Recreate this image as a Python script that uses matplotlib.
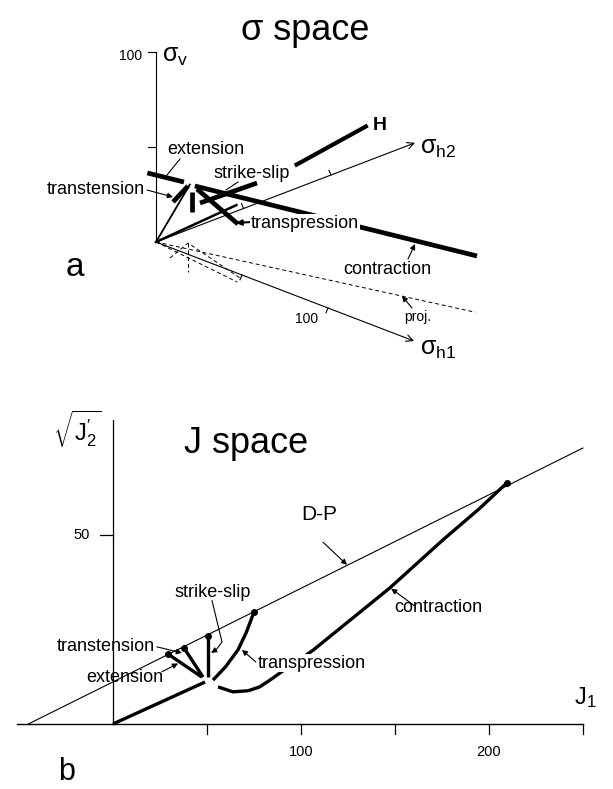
import numpy as np
import matplotlib
matplotlib.use("Agg")
import matplotlib.pyplot as plt

plt.rcParams['font.family'] = ['Liberation Sans', 'DejaVu Sans']
plt.rcParams['mathtext.fontset'] = 'custom'
plt.rcParams['mathtext.rm'] = 'Liberation Sans'
plt.rcParams['mathtext.it'] = 'Liberation Sans:italic'
plt.rcParams['mathtext.sf'] = 'Liberation Sans'

# ---- (a) sigma space: stress states as (sigma_h1, sigma_h2, sigma_v) ----
axis_len_h1 = 150
axis_len_h2 = 148
axis_len_v = 100

contraction_h1 = [10.6, 145.6]
contraction_h2 = [11.8, 40.3]
contraction_v = [29, 29]

extension_h1 = [7.3, -3.0]
extension_h2 = [8.8, -2.0]
extension_v = [31, 36]

transtension_h1 = [7.2, 3.4]
transtension_h2 = [11.2, 6.4]
transtension_v = [28, 20]

drop_h1 = [10.0, 10.0]
drop_h2 = [10.7, 10.7]
drop_v = [26, 15.5]

strikeslip_h1 = [14.9, 16.3]
strikeslip_h2 = [10.5, 41.7]
strikeslip_v = [22, 22]

transpression_h1 = [12.0, 39.0]
transpression_h2 = [11.6, 8.5]
transpression_v = [28, 20]

hydro_t = [40, 61]          # H axis, sigma_h1 = sigma_h2 = sigma_v = t

ray1_h1, ray1_h2, ray1_v = [0, 9.5], [0, 10], [0, 30]
ray2_h1, ray2_h2, ray2_v = [0, 4], [0, 42], [0, 6]

proj_h1, proj_h2, proj_v = [0, 146], [0, 39], [0, 0]
dash1_h1, dash1_h2, dash1_v = [0, 54], [0, -6.6], [0, 0]
dash2_h1, dash2_h2, dash2_v = [16.2, 10.1, 51.7], [-7.9, 8.4, -2.8], [0, 0, 0]
dash3_h1, dash3_h2, dash3_v = [10.1, 10.1], [8.4, 8.4], [0, -15]

# ---- (b) J space ----
dp_j1 = [-45, 250]
dp_y = [0, 73]
base_j1 = [0, 49]
base_y = [0, 11.1]
ext_j1 = [29.3, 47.3]
ext_y = [18.5, 12.4]
ttn_j1 = [37.8, 47.9]
ttn_y = [20.1, 12.4]
ss_j1 = [50.5, 50.5]
ss_y = [12.4, 23.3]
tpr_j1 = [53.2, 60, 66.5, 71, 75]
tpr_y = [11.6, 15.2, 19.6, 24.3, 29.6]
con_j1 = [55.9, 63.8, 72, 78, 83.5, 92, 100, 106.4, 125, 147.3, 176, 195, 209.6]
con_y = [9.8, 8.5, 8.8, 9.8, 11.6, 14.6, 17.3, 19.5, 27, 36, 48.9, 57, 63.8]
dot_j1 = [29.3, 37.8, 50.5, 75, 209.6]
dot_y = [18.5, 20.1, 23.3, 29.6, 63.8]
j1_ticks = [50, 100, 150, 200, 250]
j1_ticklabels = ['', '100', '', '200', '']
y_ticks = [50]


def proj(h1, h2, v):
    # oblique projection of the stress space onto the page
    h1, h2, v = np.asarray(h1, float), np.asarray(h2, float), np.asarray(v, float)
    return 1.72 * h1 + 1.75 * h2, -0.66 * h1 + 0.67 * h2 + 1.9 * v


def arrow(ax, tail, tip, lw=0.8):
    ax.annotate('', xy=tip, xytext=tail,
                arrowprops=dict(arrowstyle='-|>', color='k', lw=lw,
                                mutation_scale=8, shrinkA=0, shrinkB=0))


fig = plt.figure(figsize=(6.13, 7.89), dpi=100)

# ================= top panel =================
ax1 = fig.add_axes([0, 389 / 789, 1, 400 / 789])
ax1.set_xlim(-156, 457)
ax1.set_ylim(-158, 242)
ax1.axis('off')

# axes
x, y = proj([0, 0], [0, 0], [0, axis_len_v])
ax1.plot(x, y, color='k', lw=0.8)
for t in [50, 100]:
    x, y = proj(0, 0, t)
    ax1.plot([x - 8, x], [y, y], color='k', lw=0.8)
x, y = proj([0, axis_len_h1], [0, 0], [0, 0])
ax1.annotate('', xy=(x[1], y[1]), xytext=(x[0], y[0]),
             arrowprops=dict(arrowstyle='->', color='k', lw=0.8, mutation_scale=12,
                             shrinkA=0, shrinkB=0))
x, y = proj([0, 0], [0, axis_len_h2], [0, 0])
ax1.annotate('', xy=(x[1], y[1]), xytext=(x[0], y[0]),
             arrowprops=dict(arrowstyle='->', color='k', lw=0.8, mutation_scale=12,
                             shrinkA=0, shrinkB=0))
for t in [50, 100]:
    x, y = proj([t, t], [0, 0], [0, -2.5])
    ax1.plot(x - [0, 2], y, color='k', lw=0.8)
    x, y = proj([0, 0], [t, t], [0, 2.5])
    ax1.plot(x - [0, 2], y, color='k', lw=0.8)

# dashed construction lines
for hh1, hh2, vv in [(proj_h1, proj_h2, proj_v), (dash1_h1, dash1_h2, dash1_v),
                     (dash2_h1, dash2_h2, dash2_v), (dash3_h1, dash3_h2, dash3_v)]:
    x, y = proj(hh1, hh2, vv)
    ax1.plot(x, y, color='k', lw=0.7, dashes=(4, 3))

# rays from origin
x, y = proj(ray1_h1, ray1_h2, ray1_v)
ax1.plot(x, y, color='k', lw=1.3)
x, y = proj(ray2_h1, ray2_h2, ray2_v)
ax1.plot(x, y, color='k', lw=1.8)

# stress paths
for hh1, hh2, vv in [(contraction_h1, contraction_h2, contraction_v),
                     (extension_h1, extension_h2, extension_v),
                     (transtension_h1, transtension_h2, transtension_v),
                     (drop_h1, drop_h2, drop_v),
                     (strikeslip_h1, strikeslip_h2, strikeslip_v),
                     (transpression_h1, transpression_h2, transpression_v)]:
    x, y = proj(hh1, hh2, vv)
    ax1.plot(x, y, color='k', lw=3.4, solid_capstyle='butt')
x, y = proj(hydro_t, hydro_t, hydro_t)
ax1.plot(x, y, color='k', lw=3.0, solid_capstyle='butt')

# labels
ax1.text(149, 212, 'σ space', fontsize=26, ha='center', va='center')
ax1.text(-14, 186, '100', fontsize=10, ha='right', va='center')
ax1.text(6, 186, r'$\mathrm{\sigma_{v}}$', fontsize=18, ha='left', va='center')
ax1.text(264, 94, r'$\mathrm{\sigma_{h2}}$', fontsize=18, ha='left', va='center')
ax1.text(264, -107, r'$\mathrm{\sigma_{h1}}$', fontsize=18, ha='left', va='center')
ax1.text(151, -77, '100', fontsize=10, ha='center', va='center')
ax1.text(217, 117, 'H', fontsize=14, fontweight='bold', ha='left', va='center')
ax1.text(-81, -25, 'a', fontsize=24, ha='center', va='center')

ax1.text(50, 92, 'extension', fontsize=13, ha='center', va='center')
ax1.plot([24, 11], [83, 67], color='k', lw=0.8)
ax1.text(-11, 52, 'transtension', fontsize=13, ha='right', va='center')
arrow(ax1, (-9, 52), (17, 45))
ax1.text(96, 69, 'strike-slip', fontsize=13, ha='center', va='center')
ax1.plot([82, 70], [60, 52], color='k', lw=0.8)
ax1.text(95, 19, 'transpression', fontsize=13, ha='left', va='center',
         bbox=dict(facecolor='white', edgecolor='none', pad=0.5), zorder=5)
arrow(ax1, (95, 20), (80, 19), lw=1.5)
ax1.text(231, -28, 'contraction', fontsize=13, ha='center', va='center')
arrow(ax1, (252, -17), (259, -2))
ax1.text(262, -75, 'proj.', fontsize=10, ha='center', va='center')
arrow(ax1, (256, -66), (246, -54))

# ================= bottom panel =================
ax2 = fig.add_axes([0, 0, 1, 389 / 789])
ax2.set_xlim(-60.1, 266)
ax2.set_ylim(-17.2, 85.7)
ax2.axis('off')

ax2.plot([-51, 250], [0, 0], color='k', lw=1.0)
ax2.plot([0, 0], [0, 80.5], color='k', lw=0.9)
for t, lab in zip(j1_ticks, j1_ticklabels):
    ax2.plot([t, t], [0, -2.7], color='k', lw=0.9)
    if lab:
        ax2.text(t, -7.4, lab, fontsize=10.5, ha='center', va='center')
for t in y_ticks:
    ax2.plot([-6.9, 0], [t, t], color='k', lw=0.9)
    ax2.text(-12.5, t, str(t), fontsize=10.5, ha='right', va='center')

ax2.plot(dp_j1, dp_y, color='k', lw=0.8)
for xs, ys in [(base_j1, base_y), (ext_j1, ext_y), (ttn_j1, ttn_y),
               (ss_j1, ss_y), (tpr_j1, tpr_y), (con_j1, con_y)]:
    ax2.plot(xs, ys, color='k', lw=2.4, solid_capstyle='butt')
ax2.plot(dot_j1, dot_y, 'o', color='k', ms=4)

ax2.text(70.7, 74.3, 'J space', fontsize=26, ha='center', va='center')
ax2.text(-19, 78, r'$\sqrt{\mathrm{J}_2^{\prime}}$', fontsize=17, ha='center', va='center')
ax2.text(245, 7, r'$\mathrm{J_1}$', fontsize=17, ha='left', va='center')
ax2.text(-24.5, -12.6, 'b', fontsize=22, ha='center', va='center')

ax2.text(109.6, 55.3, 'D-P', fontsize=15, ha='center', va='center')
arrow(ax2, (111.7, 48.1), (124.5, 42.1))
ax2.text(53.2, 34.7, 'strike-slip', fontsize=13, ha='center', va='center')
ax2.plot([52.7, 58, 55], [32.6, 21.7, 19.7], color='k', lw=0.8)
arrow(ax2, (55, 19.7), (52.2, 18.8))
ax2.text(22.3, 20.4, 'transtension', fontsize=13, ha='right', va='center')
arrow(ax2, (23.4, 20.4), (36.7, 18.8))
ax2.text(6.4, 12.2, 'extension', fontsize=13, ha='center', va='center')
arrow(ax2, (26, 13.8), (34.6, 16.0))
ax2.text(77, 16.1, 'transpression', fontsize=13, ha='left', va='center',
         bbox=dict(facecolor='white', edgecolor='none', pad=0.5), zorder=5)
arrow(ax2, (76, 16.4), (68.6, 19.6))
ax2.text(172.9, 30.7, 'contraction', fontsize=13, ha='center', va='center')
arrow(ax2, (160.6, 31.2), (148, 35.8))

fig.savefig('out.png', dpi=100)
